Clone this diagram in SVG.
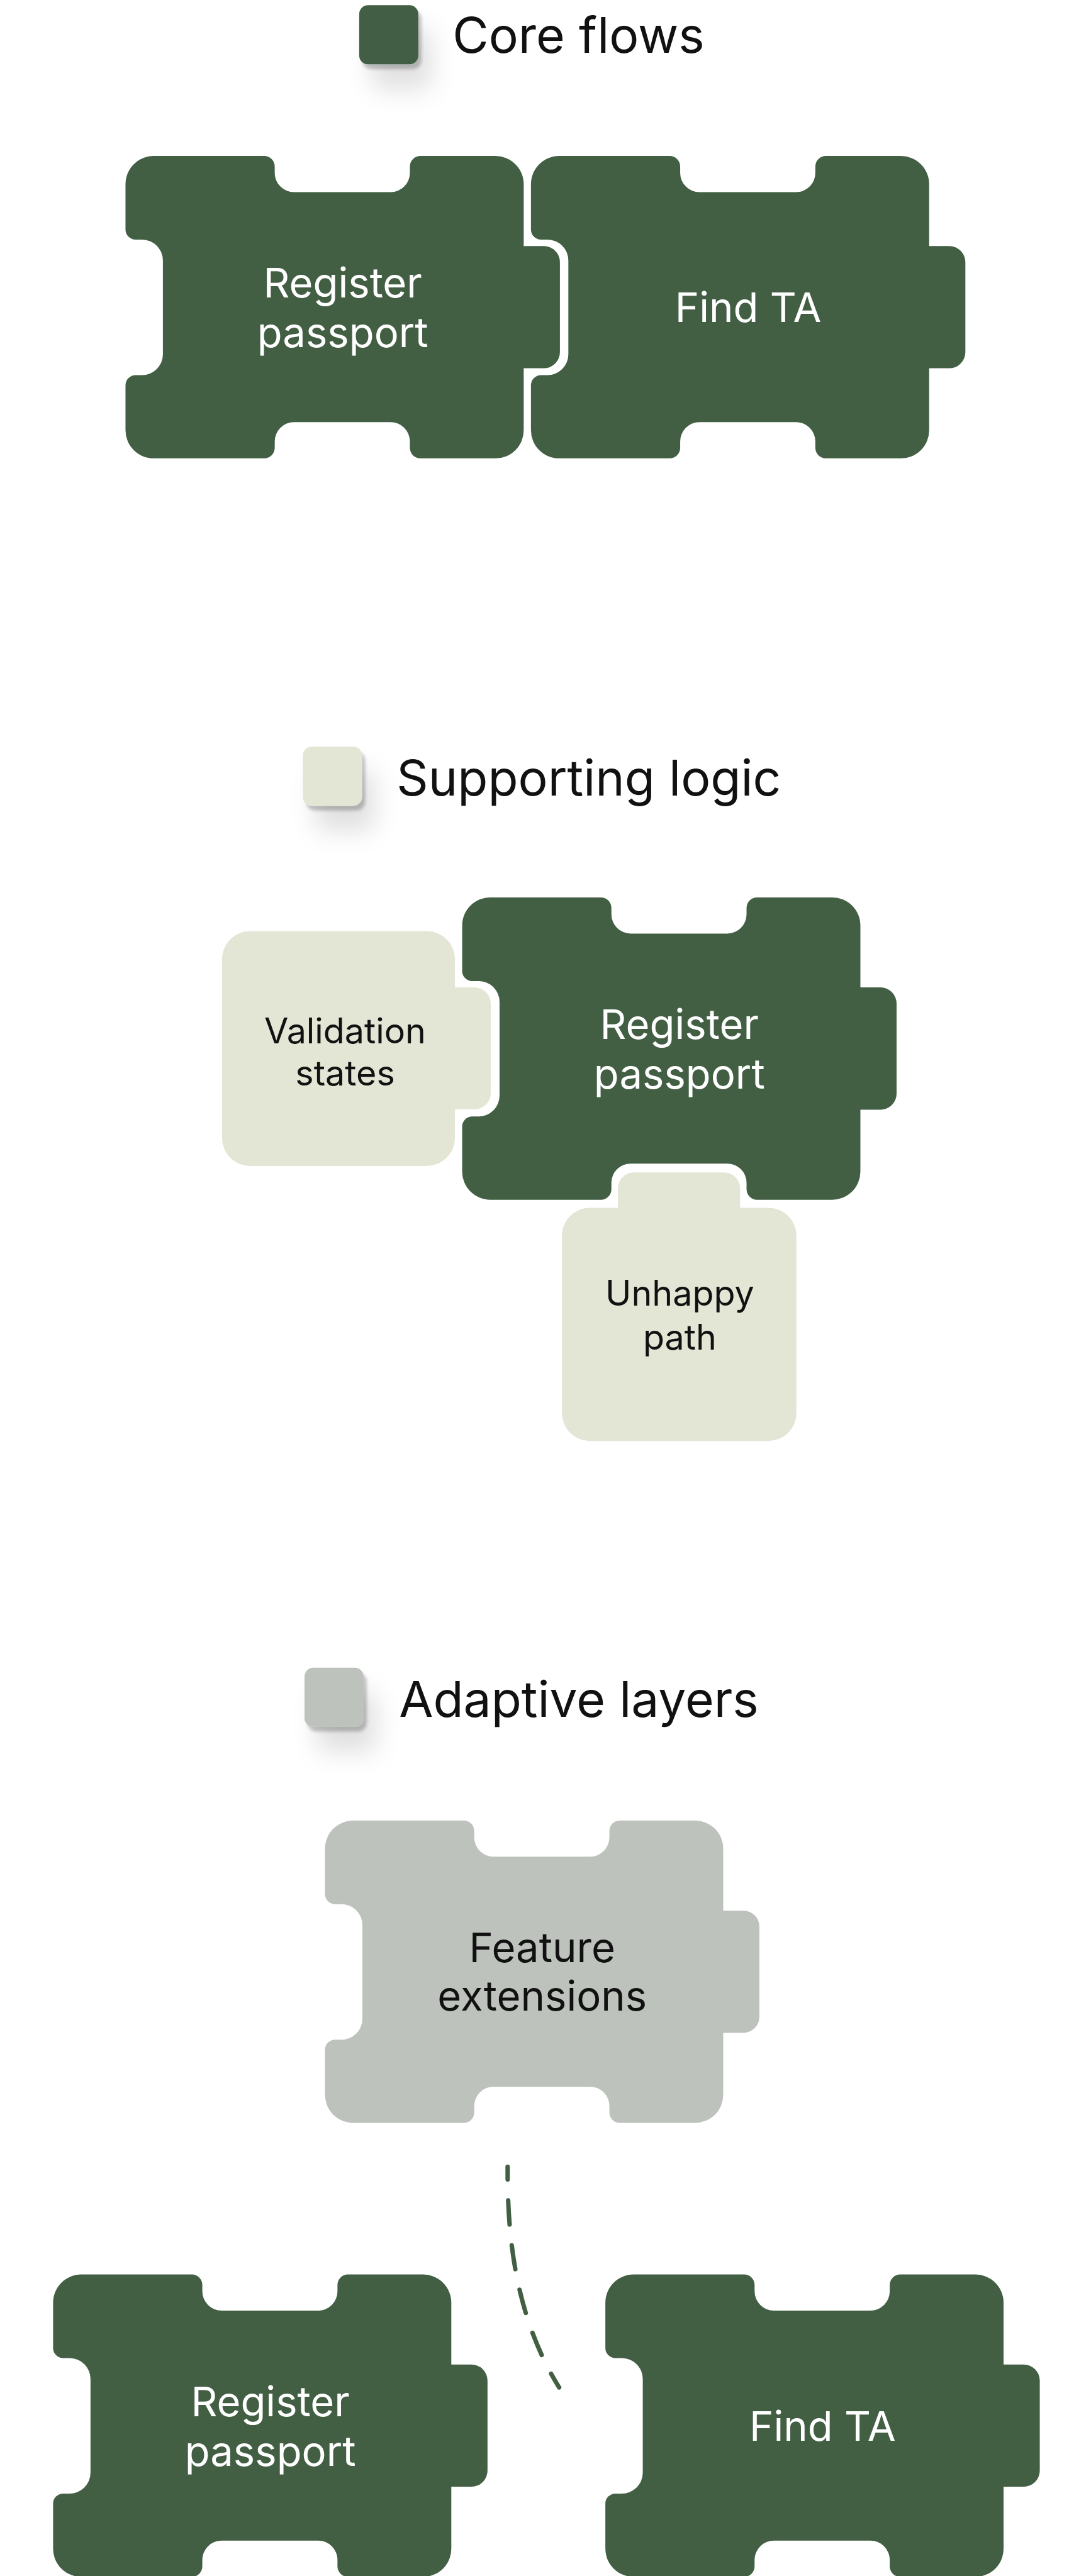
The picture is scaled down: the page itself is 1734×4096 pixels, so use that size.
<svg xmlns="http://www.w3.org/2000/svg" xmlns:xlink="http://www.w3.org/1999/xlink" width="1734" height="4096" viewBox="0 0 1734 4096">
<style>
  text { font-family: Inter, "Liberation Sans", sans-serif; font-weight: 400; }
  .legend { font-size: 123px; fill: #111111; }
  .big { font-size: 102px; text-anchor: middle; }
  .small { font-size: 87px; text-anchor: middle; fill: #111111; }
  .onDark { fill: #ffffff; }
  .onLight { fill: #111111; }
  .core { fill: #425F44; }
  .support { fill: #E3E6D5; }
  .adaptive { fill: #BDC2BC; }
  .dash { fill: none; stroke: #425F44; stroke-width: 11; stroke-linecap: round; stroke-dasharray: 60 52; stroke-dashoffset: 28; }
</style>
<defs>
  <path id="piece" d="M 70 0 H 345 A 26 26 0 0 1 371 26 V 42 A 48 48 0 0 0 419 90 H 659 A 48 48 0 0 0 707 42 V 26 A 26 26 0 0 1 733 0 H 920 A 70 70 0 0 1 990 70 V 224 H 1040 A 40 40 0 0 1 1080 264 V 488 A 40 40 0 0 1 1040 528 H 990 V 682 A 70 70 0 0 1 920 752 H 733 A 26 26 0 0 1 707 726 V 710 A 48 48 0 0 0 659 662 H 419 A 48 48 0 0 0 371 710 V 726 A 26 26 0 0 1 345 752 H 70 A 70 70 0 0 1 0 682 V 570 A 25 25 0 0 1 25 545 H 41 A 52 52 0 0 0 93 493 V 260 A 52 52 0 0 0 41 208 H 25 A 25 25 0 0 1 0 183 V 70 A 70 70 0 0 1 70 0 Z"/>
  <filter id="shadow" x="-50%" y="-50%" width="250%" height="250%">
    <feDropShadow dx="8" dy="12" stdDeviation="4" flood-color="#000" flood-opacity="0.22"/>
    <feDropShadow dx="30" dy="60" stdDeviation="30" flood-color="#000" flood-opacity="0.12"/>
  </filter>
</defs>
<g transform="scale(0.6393)">
  <g id="legend-core">
    <rect x="893" y="13" width="147" height="147" rx="22" class="core" filter="url(#shadow)"/>
    <text x="1125" y="132" class="legend">Core flows</text>
  </g>
  <g id="legend-supporting">
    <rect x="753" y="1857" width="147" height="147" rx="22" class="support" filter="url(#shadow)"/>
    <text x="986" y="1978" class="legend">Supporting logic</text>
  </g>
  <g id="legend-adaptive">
    <rect x="757" y="4148" width="147" height="147" rx="22" class="adaptive" filter="url(#shadow)"/>
    <text x="992" y="4270" class="legend">Adaptive layers</text>
  </g>

  <g id="node-register-passport-1">
    <use xlink:href="#piece" href="#piece" x="312" y="388" class="core"/>
    <text class="big onDark" x="852"><tspan x="852" y="740">Register</tspan><tspan x="852" y="864">passport</tspan></text>
  </g>
  <g id="node-find-ta-1">
    <use xlink:href="#piece" href="#piece" x="1320" y="388" class="core"/>
    <text class="big onDark" x="1860" y="801">Find TA</text>
  </g>

  <g id="node-validation-states">
    <path class="support" transform="translate(552 2316)" d="M 70 0 H 509 A 70 70 0 0 1 579 70 V 140 H 628 A 40 40 0 0 1 668 180 V 403 A 40 40 0 0 1 628 443 H 579 V 514 A 70 70 0 0 1 509 584 H 70 A 70 70 0 0 1 0 514 V 70 A 70 70 0 0 1 70 0 Z"/>
    <text class="small" x="858"><tspan x="858" y="2595">Validation</tspan><tspan x="858" y="2700">states</tspan></text>
  </g>
  <g id="node-register-passport-2">
    <use xlink:href="#piece" href="#piece" x="1149" y="2232" class="core"/>
    <text class="big onDark" x="1689"><tspan x="1689" y="2584">Register</tspan><tspan x="1689" y="2708">passport</tspan></text>
  </g>
  <g id="node-unhappy-path">
    <path class="support" transform="translate(1397 3004)" d="M 70 0 H 139 V -48 A 40 40 0 0 1 179 -88 H 403 A 40 40 0 0 1 443 -48 V 0 H 513 A 70 70 0 0 1 583 70 V 510 A 70 70 0 0 1 513 580 H 70 A 70 70 0 0 1 0 510 V 70 A 70 70 0 0 1 70 0 Z"/>
    <text class="small" x="1690"><tspan x="1690" y="3248">Unhappy</tspan><tspan x="1690" y="3357">path</tspan></text>
  </g>

  <g id="node-feature-extensions">
    <use xlink:href="#piece" href="#piece" x="808" y="4528" class="adaptive"/>
    <text class="big onLight" x="1348"><tspan x="1348" y="4880">Feature</tspan><tspan x="1348" y="5000">extensions</tspan></text>
  </g>

  <g id="node-register-passport-3">
    <use xlink:href="#piece" href="#piece" x="132" y="5657" class="core"/>
    <text class="big onDark" x="672"><tspan x="672" y="6009">Register</tspan><tspan x="672" y="6133">passport</tspan></text>
  </g>
  <g id="node-find-ta-3">
    <use xlink:href="#piece" href="#piece" x="1505" y="5657" class="core"/>
    <text class="big onDark" x="2045" y="6070">Find TA</text>
  </g>

  <g id="connectors">
    <path class="dash" d="M 1262 5389 C 1261 5560 1280 5760 1390 5938"/>
  </g>
</g>
</svg>
